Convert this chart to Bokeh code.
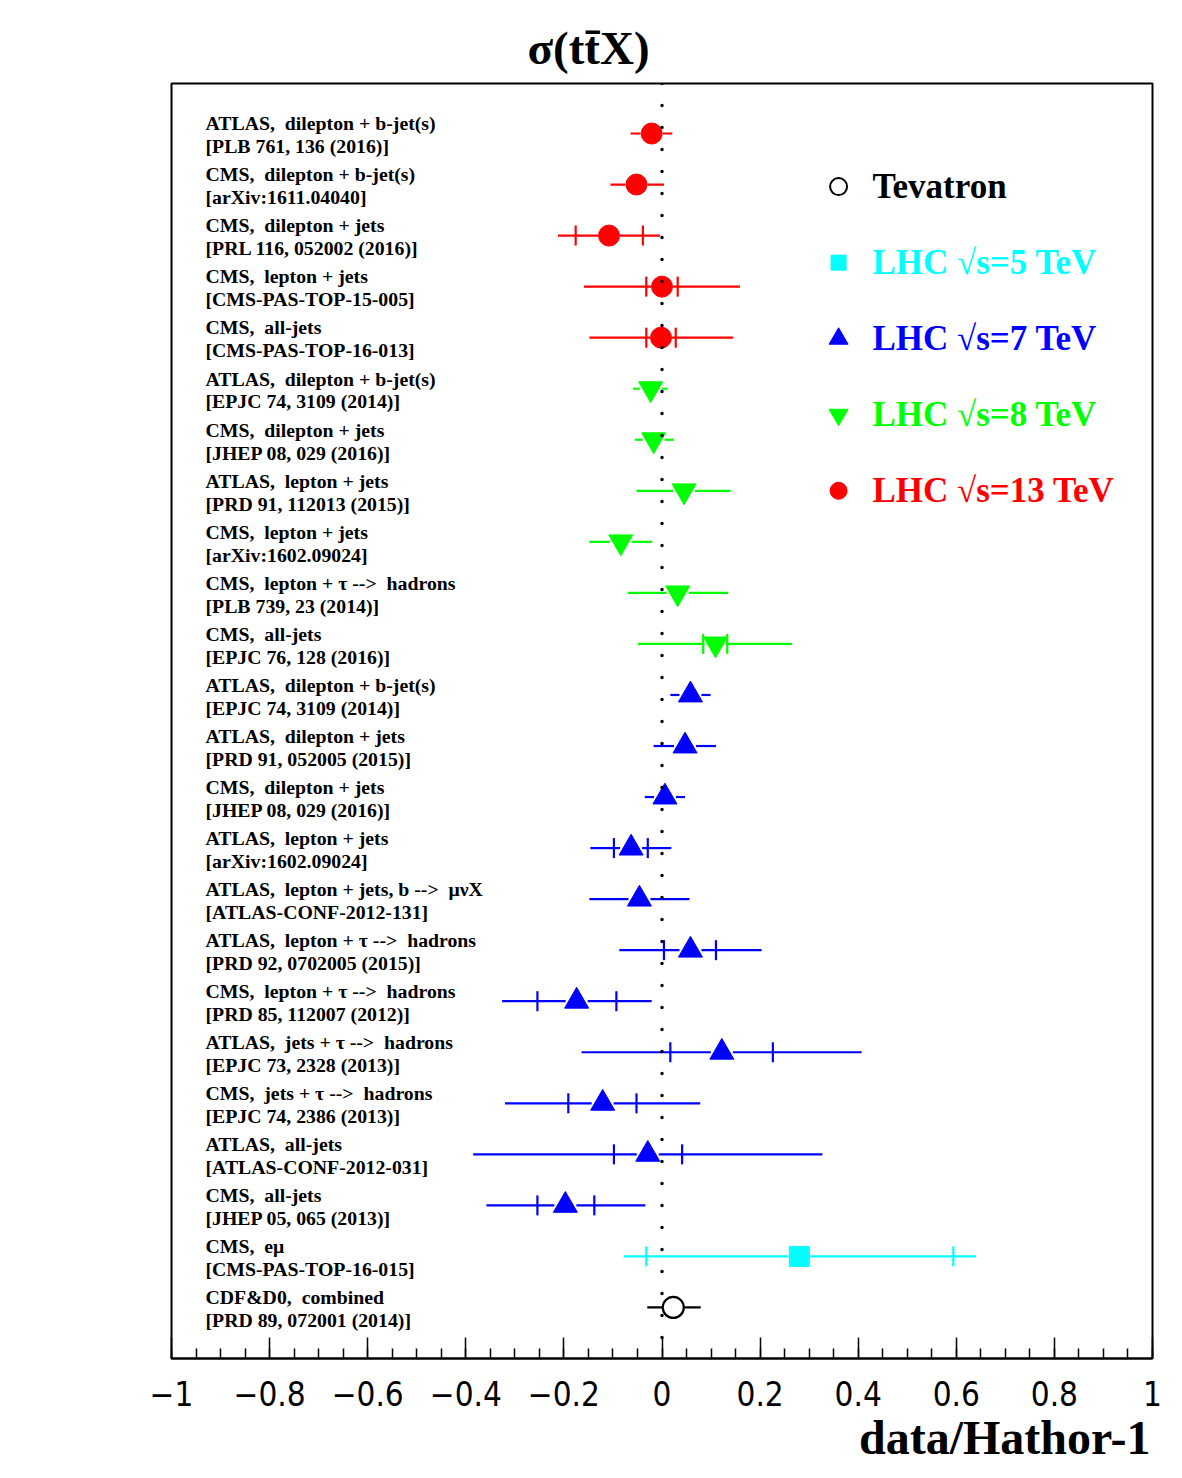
from bokeh.plotting import figure
from bokeh.models import Range1d, Span, Title, FixedTicker, CustomJSTickFormatter, ColumnDataSource
from bokeh.core.properties import value
from bokeh.embed import file_html
from bokeh.resources import INLINE

# ---------------- data ----------------
line1 = [
    "ATLAS,\u00a0 dilepton + b-jet(s)", "CMS,\u00a0 dilepton + b-jet(s)", "CMS,\u00a0 dilepton + jets",
    "CMS,\u00a0 lepton + jets", "CMS,\u00a0 all-jets",
    "ATLAS,\u00a0 dilepton + b-jet(s)", "CMS,\u00a0 dilepton + jets", "ATLAS,\u00a0 lepton + jets",
    "CMS,\u00a0 lepton + jets", "CMS,\u00a0 lepton + \u03c4 -->\u00a0 hadrons", "CMS,\u00a0 all-jets",
    "ATLAS,\u00a0 dilepton + b-jet(s)", "ATLAS,\u00a0 dilepton + jets", "CMS,\u00a0 dilepton + jets",
    "ATLAS,\u00a0 lepton + jets", "ATLAS,\u00a0 lepton + jets, b -->\u00a0 \u03bc\u03bdX",
    "ATLAS,\u00a0 lepton + \u03c4 -->\u00a0 hadrons", "CMS,\u00a0 lepton + \u03c4 -->\u00a0 hadrons",
    "ATLAS,\u00a0 jets + \u03c4 -->\u00a0 hadrons", "CMS,\u00a0 jets + \u03c4 -->\u00a0 hadrons",
    "ATLAS,\u00a0 all-jets", "CMS,\u00a0 all-jets",
    "CMS,\u00a0 e\u03bc", "CDF&D0,\u00a0 combined",
]
line2 = [
    "[PLB 761, 136 (2016)]", "[arXiv:1611.04040]", "[PRL 116, 052002 (2016)]",
    "[CMS-PAS-TOP-15-005]", "[CMS-PAS-TOP-16-013]",
    "[EPJC 74, 3109 (2014)]", "[JHEP 08, 029 (2016)]", "[PRD 91, 112013 (2015)]",
    "[arXiv:1602.09024]", "[PLB 739, 23 (2014)]", "[EPJC 76, 128 (2016)]",
    "[EPJC 74, 3109 (2014)]", "[PRD 91, 052005 (2015)]", "[JHEP 08, 029 (2016)]",
    "[arXiv:1602.09024]", "[ATLAS-CONF-2012-131]", "[PRD 92, 0702005 (2015)]",
    "[PRD 85, 112007 (2012)]", "[EPJC 73, 2328 (2013)]", "[EPJC 74, 2386 (2013)]",
    "[ATLAS-CONF-2012-031]", "[JHEP 05, 065 (2013)]",
    "[CMS-PAS-TOP-16-015]", "[PRD 89, 072001 (2014)]",
]
group = ["13"] * 5 + ["8"] * 6 + ["7"] * 11 + ["5", "tev"]

central = [-0.021, -0.052, -0.108, 0.000, -0.002,
           -0.023, -0.017, 0.045, -0.084, 0.032, 0.109,
           0.058, 0.047, 0.006, -0.063, -0.046, 0.058, -0.174, 0.122, -0.121, -0.029, -0.197,
           0.280, 0.023]
total_lo = [-0.064, -0.105, -0.212, -0.159, -0.148,
            -0.059, -0.055, -0.052, -0.148, -0.070, -0.049,
            0.017, -0.017, -0.035, -0.146, -0.148, -0.087, -0.326, -0.164, -0.320, -0.385, -0.358,
            -0.078, -0.030]
total_hi = [0.021, 0.004, -0.004, 0.159, 0.145,
            0.011, 0.024, 0.140, -0.020, 0.135, 0.265,
            0.099, 0.110, 0.047, 0.019, 0.056, 0.203, -0.021, 0.407, 0.078, 0.327, -0.034,
            0.640, 0.079]
stat_lo = [None, None, -0.176, -0.032, -0.032,
           None, None, None, None, None, 0.084,
           None, None, None, -0.098, None, 0.004, -0.254, 0.017, -0.191, -0.098, -0.254,
           -0.032, None]
stat_hi = [None, None, -0.039, 0.032, 0.028,
           None, None, None, None, None, 0.133,
           None, None, None, -0.029, None, 0.110, -0.093, 0.226, -0.052, 0.041, -0.138,
           0.594, None]

x_ticks = [-1.0, -0.8, -0.6, -0.4, -0.2, 0.0, 0.2, 0.4, 0.6, 0.8, 1.0]
x_minor = [-1.0 + 0.05 * k for k in range(41)]

legend_keys = ["tev", "5", "7", "8", "13"]
legend_text = ["Tevatron", "LHC \u221as=5 TeV", "LHC \u221as=7 TeV", "LHC \u221as=8 TeV", "LHC \u221as=13 TeV"]

title_text = "\u03c3(tt\u0304X)"
xaxis_title = "data/Hathor-1"

# ---------------- styles ----------------
style = {
    "13": dict(color="#ff0000", marker="circle", size=21, lsize=17, fill=True),
    "8": dict(color="#00ff00", marker="inverted_triangle", size=24, lsize=19, fill=True),
    "7": dict(color="#0000ff", marker="triangle", size=24, lsize=19, fill=True),
    "5": dict(color="#00ffff", marker="square", size=20, lsize=15, fill=True),
    "tev": dict(color="#000000", marker="circle", size=21, lsize=17, fill=False),
}
SERIF = value("Liberation Serif")

p = figure(width=1182, height=1478, x_range=Range1d(-1, 1), y_range=Range1d(24.0, -0.98),
           output_backend="svg", toolbar_location=None, y_axis_location=None,
           min_border_left=171, min_border_right=30, min_border_top=83, min_border_bottom=120)
p.grid.visible = False
p.outline_line_color = "black"
p.outline_line_width = 2
p.background_fill_color = "white"
p.border_fill_color = "white"

ax = p.xaxis[0]
ax.ticker = FixedTicker(ticks=x_ticks, minor_ticks=x_minor)
ax.formatter = CustomJSTickFormatter(code="""
const a = Math.round(Math.abs(tick)*10)/10;
return (tick < -1e-9 ? '\\u2212' : '') + a.toString();
""")
ax.major_tick_in = 21
ax.major_tick_out = 0
ax.minor_tick_in = 10
ax.minor_tick_out = 0
ax.axis_line_width = 2
ax.major_tick_line_width = 1.5
ax.minor_tick_line_width = 1.5
ax.major_label_text_font = "'Liberation Sans Narrow', 'DejaVu Sans Condensed', sans-serif"
ax.major_label_text_font_size = "33px"
ax.major_label_text_color = "black"
ax.major_label_standoff = 22

# dotted zero line
p.add_layout(Span(location=0, dimension="height", line_color="black", line_width=3.5,
                  line_dash="0 22", line_cap="round"))

rows = list(range(len(central)))
gap = 11.0 / 490.5  # half marker width in data units

for key in legend_keys:
    st = style[key]
    idx = [i for i in rows if group[i] == key]
    x0, x1, yy = [], [], []
    for i in idx:
        if central[i] - gap > total_lo[i]:
            x0.append(total_lo[i]); x1.append(central[i] - gap); yy.append(i)
        if central[i] + gap < total_hi[i]:
            x0.append(central[i] + gap); x1.append(total_hi[i]); yy.append(i)
    p.segment(x0=x0, y0=yy, x1=x1, y1=yy, line_color=st["color"], line_width=2.2)
    tx, ty = [], []
    for i in idx:
        if stat_lo[i] is not None:
            tx += [stat_lo[i], stat_hi[i]]; ty += [i, i]
    if tx:
        p.segment(x0=tx, y0=[t - 0.196 for t in ty], x1=tx, y1=[t + 0.196 for t in ty],
                  line_color=st["color"], line_width=2.2)
    src = ColumnDataSource(dict(x=[central[i] for i in idx], y=idx))
    if st["fill"]:
        p.scatter("x", "y", source=src, marker=st["marker"], size=st["size"],
                  fill_color=st["color"], line_color=st["color"])
    else:
        p.scatter("x", "y", source=src, marker=st["marker"], size=st["size"],
                  fill_color="white", line_color=st["color"], line_width=2.2)

# left text labels
p.text(x=[-0.9307] * len(rows), y=[i - 0.2 for i in rows], text=line1,
       text_font=SERIF, text_font_style="bold", text_font_size="19.8px",
       text_baseline="middle", text_align="left", text_color="black")
p.text(x=[-0.9307] * len(rows), y=[i + 0.25 for i in rows], text=line2,
       text_font=SERIF, text_font_style="bold", text_font_size="19.8px",
       text_baseline="middle", text_align="left", text_color="black")

# legend
leg_y = [1.04 + 1.49 * k for k in range(len(legend_keys))]
for k, key in enumerate(legend_keys):
    st = style[key]
    if st["fill"]:
        p.scatter(x=[0.36], y=[leg_y[k]], marker=st["marker"], size=st["lsize"],
                  fill_color=st["color"], line_color=st["color"])
    else:
        p.scatter(x=[0.36], y=[leg_y[k]], marker=st["marker"], size=st["lsize"],
                  fill_color="white", line_color=st["color"], line_width=2)
    p.text(x=[0.429], y=[leg_y[k]], text=[legend_text[k]], text_font=SERIF,
           text_font_style="bold", text_font_size="35px", text_baseline="middle",
           text_align="left", text_color=st["color"])

# title and axis title
p.add_layout(Title(text=title_text, align="left", offset=356, text_font="Liberation Serif",
                   text_font_style="bold", text_font_size="47px", text_color="black",
                   standoff=20), "above")
p.add_layout(Title(text=xaxis_title, align="right", offset=2, text_font="Liberation Serif",
                   text_font_style="bold", text_font_size="48px", text_color="black",
                   standoff=0), "below")

open("out.html", "w").write(file_html(p, INLINE))
